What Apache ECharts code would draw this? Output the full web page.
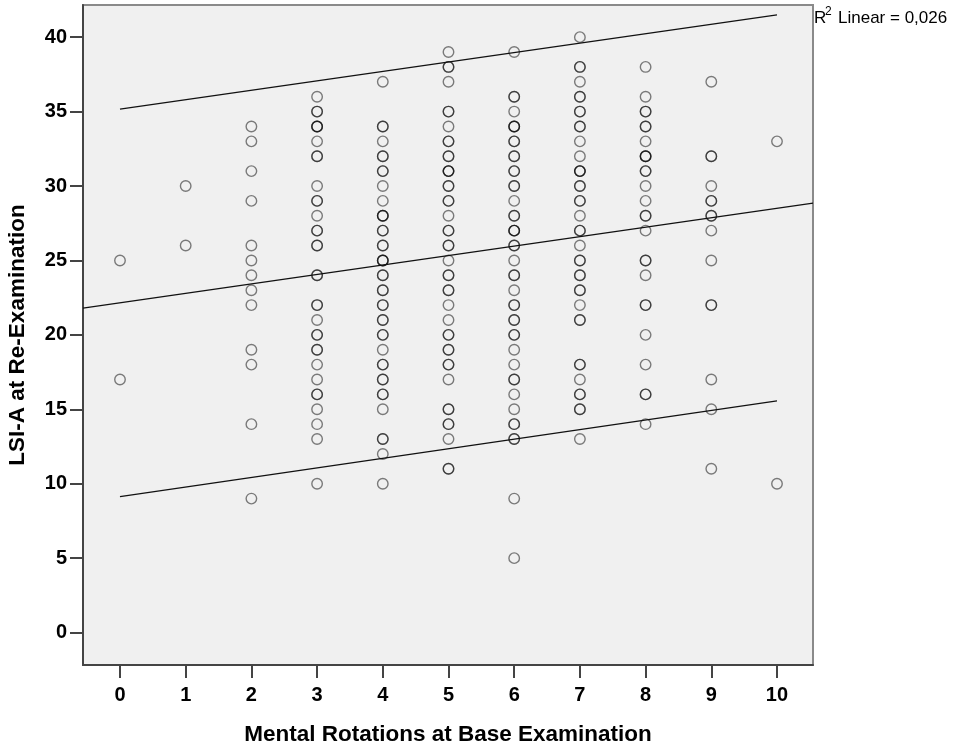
<!DOCTYPE html>
<html><head><meta charset="utf-8">
<script src="https://cdn.jsdelivr.net/npm/echarts@6/dist/echarts.min.js"></script>
<style>html,body{margin:0;padding:0;background:#fff}#c{width:955px;height:749px}</style>
</head><body><div id="c"></div>
<script>
// x categories (Mental Rotations at Base Examination)
const xValues = [0,1,2,3,4,5,6,7,8,9,10];
// LSI-A at Re-Examination values per x value (repeats = overlapping points)
const col0 = [25, 17];
const col1 = [30, 26];
const col2 = [34,33,31,29,26,25,24,23,22,19,18,14,9];
const col3 = [36,35,35,34,34,34,33,32,32,30,29,29,28,27,27,26,26,24,24,22,22,21,20,20,19,19,18,17,16,16,15,14,13,10];
const col4 = [37,34,34,33,32,32,31,31,30,29,28,28,28,27,27,26,26,25,25,25,24,24,23,23,22,22,21,21,20,20,19,18,18,17,17,16,16,15,13,13,12,10];
const col5 = [39,38,38,37,35,35,34,33,33,32,32,31,31,31,30,30,29,29,28,27,27,26,26,25,24,24,23,23,22,21,20,20,19,19,18,18,17,15,15,14,14,13,11,11];
const col6 = [39,36,36,35,34,34,34,33,33,32,32,31,31,30,30,29,28,28,27,27,27,26,26,25,24,24,23,22,22,21,21,20,20,19,18,17,17,16,15,14,14,13,13,9,5];
const col7 = [40,38,38,37,36,36,35,35,34,34,33,32,31,31,31,30,30,29,29,28,27,27,26,25,25,24,24,23,23,22,21,21,18,18,17,16,16,15,15,13];
const col8 = [38,36,35,35,34,34,33,32,32,32,31,31,30,29,28,28,27,25,25,24,22,22,20,18,16,16,14];
const col9 = [37,32,32,30,29,29,28,28,27,25,22,22,17,15,11];
const col10 = [33, 10];
const columns = [col0,col1,col2,col3,col4,col5,col6,col7,col8,col9,col10];

// tick labels
const xTicks = [0,1,2,3,4,5,6,7,8,9,10];
const yTicks = [0,5,10,15,20,25,30,35,40];

// fit line (drawn across the plot) and prediction interval lines
const fitX = [-0.563, 10.548];
const fitY = [21.8, 28.85];
const bandX = [0, 10];
const upperY = [35.17, 41.5];
const lowerY = [9.13, 15.56];
const rSquaredText = 'Linear = 0,026';

const points = [];
columns.forEach((col, i) => col.forEach(v => points.push([xValues[i], v])));

const FONT = 'Arial, "Liberation Sans", Helvetica, sans-serif';
const chart = echarts.init(document.getElementById('c'), null, {renderer: 'canvas'});
chart.setOption({
  animation: false,
  backgroundColor: '#ffffff',
  grid: {left: 83, top: 5, right: 142, bottom: 84, show: true, containLabel: false,
         outerBoundsMode: 'none',
         backgroundColor: '#f0f0f0', borderColor: '#8a8a8a', borderWidth: 2},
  xAxis: {
    type: 'value', min: -0.563, max: 10.548,
    splitLine: {show: false},
    axisLine: {show: true, onZero: false, lineStyle: {color: '#444', width: 2}},
    axisTick: {show: true, length: 13, customValues: xTicks, lineStyle: {color: '#444', width: 2}},
    axisLabel: {customValues: xTicks, color: '#000', fontWeight: 'bold', fontSize: 20, fontFamily: FONT, margin: 20},
    name: 'Mental Rotations at Base Examination', nameLocation: 'middle', nameGap: 58,
    nameTextStyle: {color: '#000', fontWeight: 'bold', fontSize: 22.5, fontFamily: FONT}
  },
  yAxis: {
    type: 'value', min: -2.18, max: 42.16,
    splitLine: {show: false},
    axisLine: {show: true, onZero: false, lineStyle: {color: '#444', width: 2}},
    axisTick: {show: true, length: 13, customValues: yTicks, lineStyle: {color: '#444', width: 2}},
    axisLabel: {customValues: yTicks, color: '#000', fontWeight: 'bold', fontSize: 20, fontFamily: FONT, margin: 16},
    name: 'LSI-A at Re-Examination', nameLocation: 'middle', nameGap: 54, nameRotate: 90,
    nameTextStyle: {color: '#000', fontWeight: 'bold', fontSize: 22.5, fontFamily: FONT}
  },
  graphic: [
    {type: 'text', x: 814, y: 10, style: {text: 'R', font: '17px ' + FONT, fill: '#000'}},
    {type: 'text', x: 825, y: 6, style: {text: '2', font: '12px ' + FONT, fill: '#000'}},
    {type: 'text', x: 838, y: 10, style: {text: rSquaredText, font: '17px ' + FONT, fill: '#000'}}
  ],
  series: [
    {type: 'scatter', data: points, symbol: 'circle', symbolSize: 10.5,
     itemStyle: {color: 'rgba(0,0,0,0)', borderColor: 'rgba(0,0,0,0.62)', borderWidth: 1.4},
     emphasis: {disabled: true}},
    {type: 'line', data: fitX.map((x, i) => [x, fitY[i]]), symbol: 'none',
     lineStyle: {color: '#111', width: 1.2}},
    {type: 'line', data: bandX.map((x, i) => [x, upperY[i]]), symbol: 'none',
     lineStyle: {color: '#111', width: 1.2}},
    {type: 'line', data: bandX.map((x, i) => [x, lowerY[i]]), symbol: 'none',
     lineStyle: {color: '#111', width: 1.2}}
  ]
});
</script></body></html>
